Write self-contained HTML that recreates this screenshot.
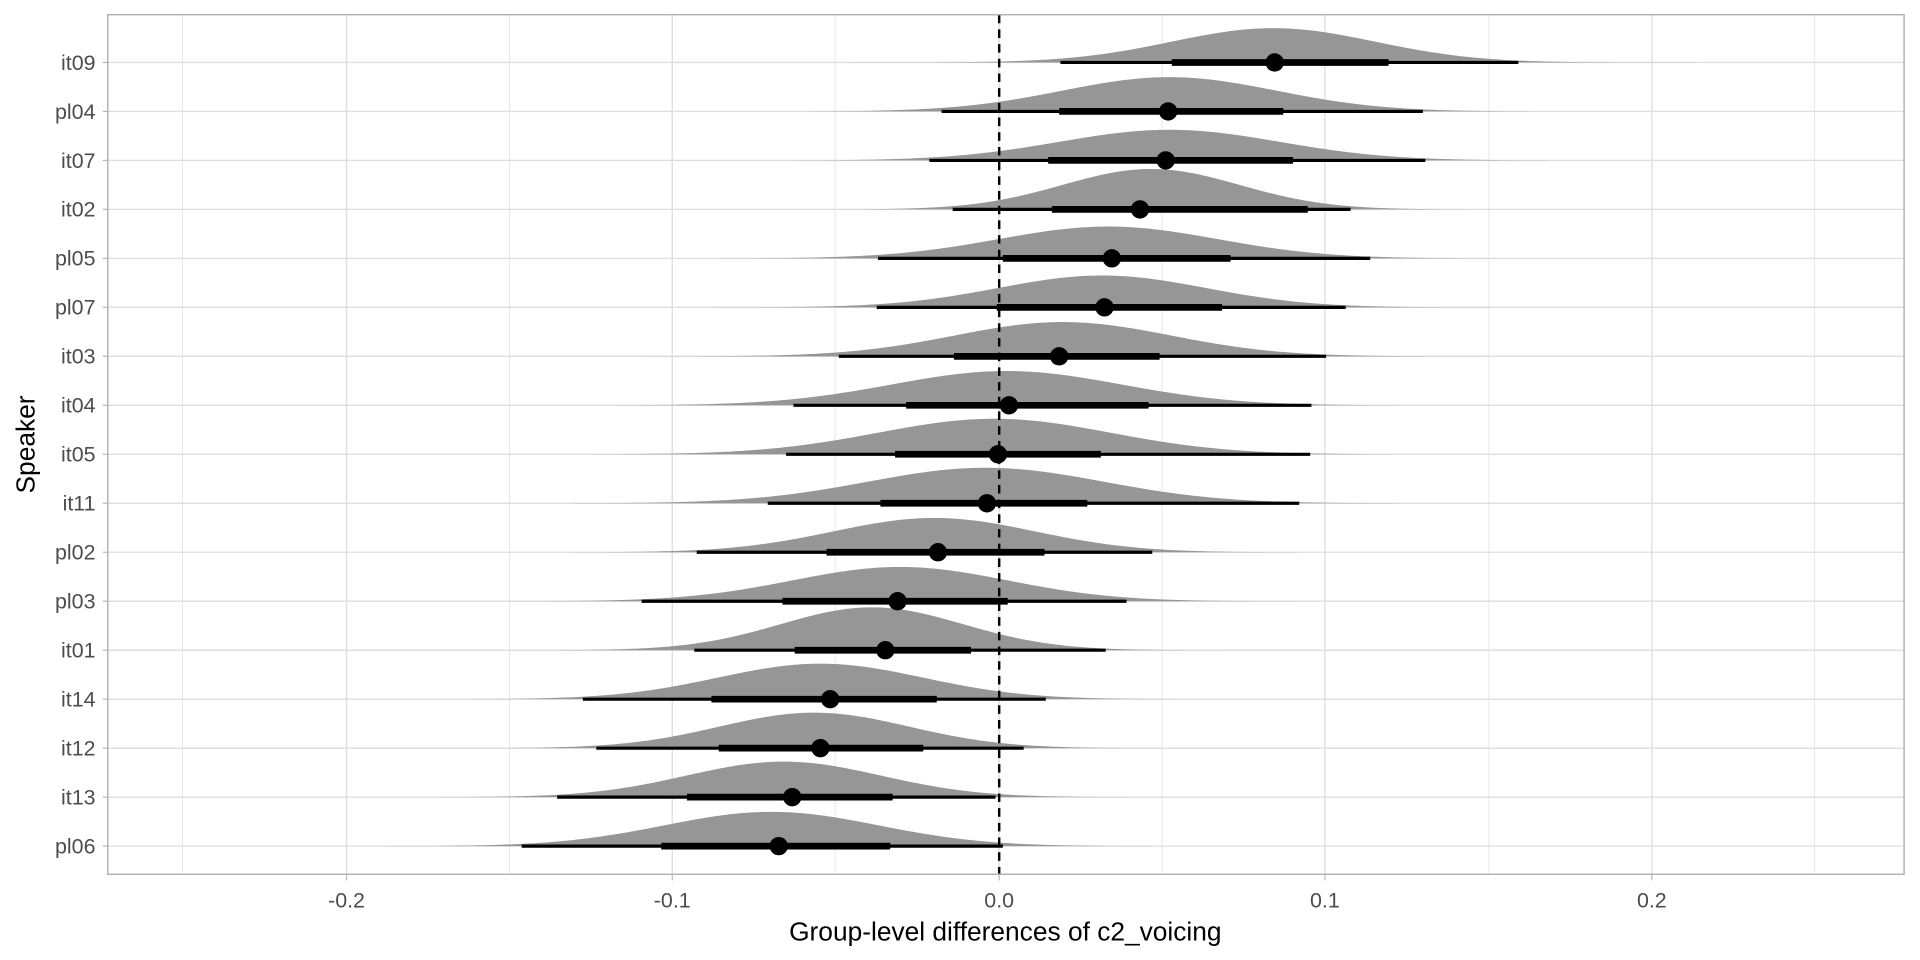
<!DOCTYPE html>
<html><head><meta charset="utf-8"><style>
html,body{margin:0;padding:0;background:#fff;}
svg{display:block;}
text{font-family:"Liberation Sans",sans-serif;}
</style></head><body>
<svg id="s" width="1920" height="960" viewBox="0 0 1568 784" xmlns="http://www.w3.org/2000/svg">
<rect x="0" y="0" width="1568" height="784" fill="#fff"/>
<g id="grid" stroke="#dedede" stroke-width="0.9"></g>
<g id="dens" fill="#969696"></g>
<line x1="816" y1="12" x2="816" y2="714" stroke="#000" stroke-width="2" stroke-dasharray="7,5"/>
<g id="ints"></g>
<rect x="88" y="12" width="1467" height="702" fill="none" stroke="#b3b3b3" stroke-width="1.2"/>
<g id="ylab" font-size="17.5" fill="#4d4d4d" text-anchor="end"></g>
<g font-size="17.5" fill="#4d4d4d" text-anchor="middle">
<text x="283" y="741">-0.2</text><text x="549" y="741">-0.1</text><text x="816" y="741">0.0</text><text x="1082" y="741">0.1</text><text x="1349" y="741">0.2</text>
</g>
<text x="821" y="768" font-size="21.5" text-anchor="middle" fill="#000">Group-level differences of c2_voicing</text>
<text transform="translate(28,363) rotate(-90)" font-size="21.5" text-anchor="middle" fill="#000">Speaker</text>
</svg>
<script>
var NS="http://www.w3.org/2000/svg";
function el(p,t,a){var e=document.createElementNS(NS,t);for(var k in a)e.setAttribute(k,a[k]);p.appendChild(e);return e;}
var rows=[
["it09",866,1240,957,1134,1041,1040,28],
["pl04",769,1162,865,1048,954,955,28],
["it07",759,1164,856,1056,952,955,25],
["it02",778,1103,859,1068,931,940,33],
["pl05",717,1119,819,1005,908,905,26],
["pl07",716,1099,814,998,902,900,26],
["it03",685,1083,779,947,865,868,28],
["it04",648,1071,740,938,824,822,28],
["it05",642,1070,731,899,815,812,29],
["it11",627,1061,719,888,806,805,29],
["pl02",569,941,675,853,766,763,28],
["pl03",524,920,639,823,733,735,28],
["it01",567,903,649,793,723,712,35],
["it14",476,854,581,765,678,670,29],
["it12",487,836,587,754,670,665,29],
["it13",455,813,561,729,647,640,29],
["pl06",426,819,540,727,636,630,28]];
var g=document.getElementById("grid");
[149,416,682,949,1216,1482].forEach(function(x){el(g,"line",{x1:x,y1:12,x2:x,y2:714,"stroke-width":0.6});});
[283,549,816,1082,1349].forEach(function(x){el(g,"line",{x1:x,y1:12,x2:x,y2:714,"stroke-width":1.1});el(g,"line",{x1:x,y1:714,x2:x,y2:719,stroke:"#b3b3b3"});});
var d=document.getElementById("dens"),iv=document.getElementById("ints"),yl=document.getElementById("ylab");
rows.forEach(function(r,i){
 var y=51+40*i;
 el(g,"line",{x1:88,y1:y,x2:1555,y2:y,"stroke-width":1.1});
 el(g,"line",{x1:84,y1:y,x2:88,y2:y,stroke:"#b3b3b3"});
 var t=el(yl,"text",{x:78,y:y+6});t.textContent=r[0];
 var sd=(r[2]-r[1])/4.5, p="M"+(r[6]-5*sd)+","+y;
 for(var x=r[6]-5*sd;x<=r[6]+5*sd;x+=2){var z=(x-r[6])/sd;p+=" L"+x.toFixed(1)+","+(y-r[7]*Math.exp(-z*z/2)).toFixed(2);}
 p+=" L"+(r[6]+5*sd)+","+y+"Z";
 el(d,"path",{d:p});
 el(iv,"line",{x1:r[1],y1:y,x2:r[2],y2:y,stroke:"#000","stroke-width":2.6});
 el(iv,"line",{x1:r[3],y1:y,x2:r[4],y2:y,stroke:"#000","stroke-width":5.5});
 el(iv,"circle",{cx:r[5],cy:y,r:7.5,fill:"#000"});
});
</script>
</body></html>
